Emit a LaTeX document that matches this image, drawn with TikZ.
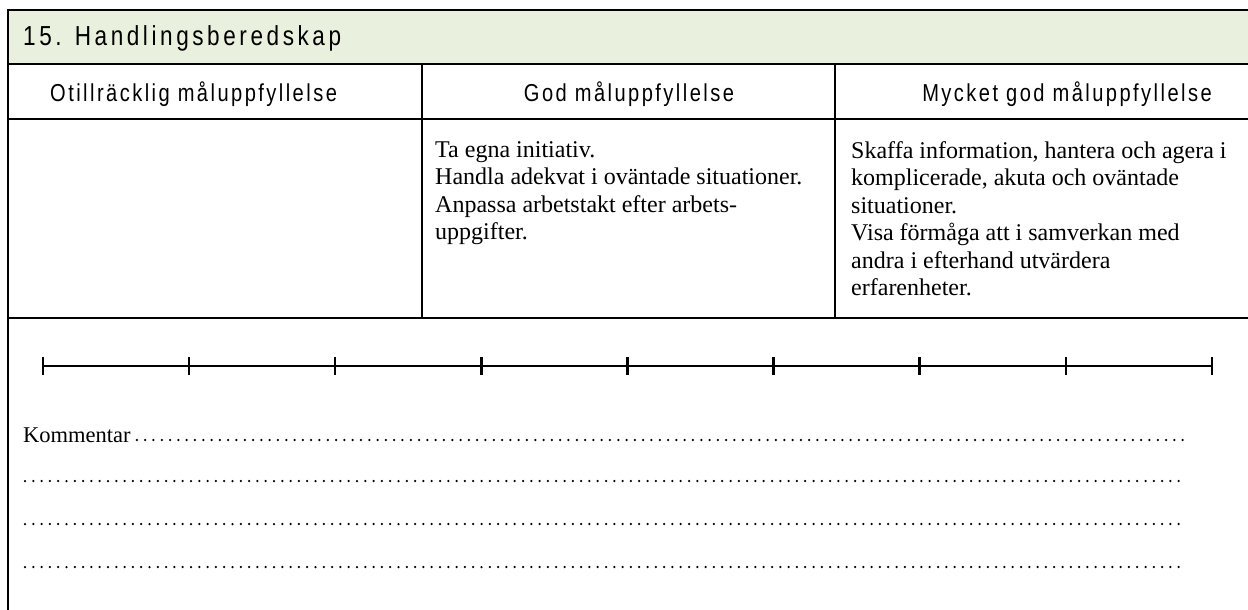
\documentclass[tikz,border=0pt]{standalone}
\usepackage{fontspec}
\setmainfont{Liberation Serif}
\newfontfamily\narrowfont[FakeStretch=0.82,LetterSpace=10]{Liberation Sans}
\newfontfamily\titlefont[FakeStretch=0.82,LetterSpace=13]{Liberation Sans}
\usepackage{xcolor}
\definecolor{hdrgreen}{RGB}{233,241,222}

\begin{document}
\begin{tikzpicture}[x=1pt,y=-1pt]
      \useasboundingbox (0,0) rectangle (1248,610);
      \tikzset{H/.style = {anchor=base, inner sep=0pt, font=\narrowfont\fontsize{24.5}{27}\selectfont}}
      \tikzset{B/.style = {anchor=north west, align=left, inner sep=0pt, font=\fontsize{24}{27.5}\selectfont}}
      \tikzset{L/.style = {draw, line width=2.6pt}}
      \tikzset{D/.style = {draw, line width=2.5pt, line cap=round, dash pattern=on 0pt off 8.3pt}}
      % table frame
      \fill[hdrgreen] (8,10) rectangle (1300,64);
      \draw[L] (1300,10) -- (8,10) -- (8,620);
      \draw[L] (8,64) -- (1300,64);
      \draw[L] (8,119) -- (1300,119);
      \draw[L] (8,318) -- (1300,318);
      \draw[L] (422,64) -- (422,318);
      \draw[L] (835,64) -- (835,318);
      % headings
      \node[anchor=base west, inner sep=0pt, font=\titlefont\fontsize{27.5}{30}\selectfont](title) at (23,46) {15. Handlingsberedskap};
      \node[H,anchor=base west](c1) at (50,102) {Otillräcklig måluppfyllelse};
      \node[H](c2) at (629,102) {God måluppfyllelse};
      \node[H](c3) at (1067,102) {Mycket god måluppfyllelse};
      % criteria
      \node[B](t2) at (435,141) {Ta egna initiativ.\\Handla adekvat i oväntade situationer.\\Anpassa arbetstakt efter arbets-\\uppgifter.};
      \node[B](t3) at (851,141) {Skaffa information, hantera och agera i\\komplicerade, akuta och oväntade\\situationer.\\Visa förmåga att i samverkan med\\andra i efterhand utvärdera\\erfarenheter.};
      % scale
      \foreach \i in {0,...,8}
            \coordinate (s\i) at (43+146.1*\i,366);
      \draw[line width=2.2pt] (s0) -- (s8);
      \foreach \i in {0,...,8}
            \draw[line width=2.4pt] (s\i) ++(0,-9) -- ++(0,18);
      % comment lines
      \node[anchor=base west, inner sep=0pt, font=\fontsize{22.5}{24}\selectfont](kom) at (23,442) {Kommentar};
      \coordinate (k0) at (1186,440);
      \draw[D] ([xshift=6pt]kom.base east) ++(0,-2) -- (k0);
      \foreach \y in {481,524,567}
            \draw[D] (25,\y) -- (1186,\y);
\end{tikzpicture}
\end{document}
